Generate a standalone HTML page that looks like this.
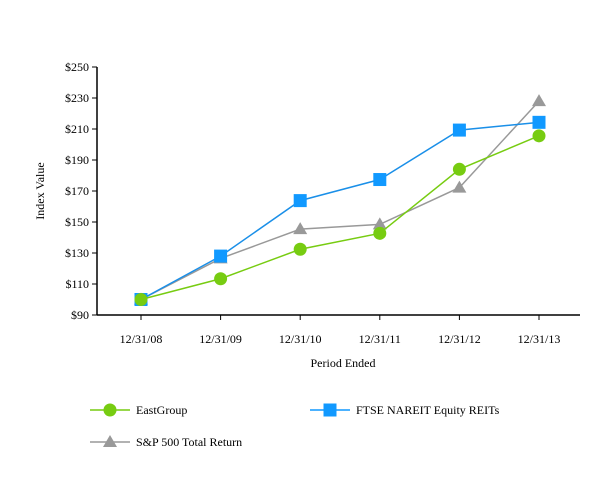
<!DOCTYPE html>
<html><head><meta charset="utf-8"><style>
body{margin:0;background:#fff;}
svg{font-family:"Liberation Serif",serif;}
</style></head><body>
<svg width="613" height="480" xmlns="http://www.w3.org/2000/svg">
<g id="axes"></g><g id="series"></g><g id="legend"></g>
</svg>
<script>
const categories=["12/31/08","12/31/09","12/31/10","12/31/11","12/31/12","12/31/13"];
const yTicks=[90,110,130,150,170,190,210,230,250];
const eastGroup=[100,113.4,132.4,142.7,184,205.6];
const ftse=[100,128,163.8,177.4,209.3,214.3];
const sp500=[100,126.5,145.4,148.5,172.2,228];
const NS="http://www.w3.org/2000/svg";
const x0=97,x1=580,yTop=67,yBot=315;
function xs(i){return 141+i*79.6;}
function ys(v){return yBot-(v-90)/(250-90)*(yBot-yTop);}
function mk(tag,attrs,parent,text){const e=document.createElementNS(NS,tag);for(const k in attrs)e.setAttribute(k,attrs[k]);if(text!==undefined)e.textContent=text;parent.appendChild(e);return e;}
const axes=document.getElementById('axes');
let a=mk('line',{x1:x0,y1:yTop,x2:x0,y2:yBot,stroke:'#000','stroke-width':1.5},axes);


a=mk('line',{x1:x0,y1:yBot,x2:x1,y2:yBot,stroke:'#000','stroke-width':1.5},axes);


yTicks.forEach(v=>{
 mk('line',{x1:x0-5,y1:ys(v),x2:x0,y2:ys(v),stroke:'#000'},axes);
 const t=mk('text',{x:x0-8,y:ys(v)+4,'text-anchor':'end','font-size':12},axes,'$'+v);
 
 
});
categories.forEach((c,i)=>{
 mk('line',{x1:xs(i),y1:yBot,x2:xs(i),y2:yBot+5,stroke:'#000'},axes);
 const t=mk('text',{x:xs(i),y:343,'text-anchor':'middle','font-size':12},axes,c);
 
 
});
let t=mk('text',{x:343,y:367,'text-anchor':'middle','font-size':12},axes,'Period Ended');


t=mk('text',{x:44,y:191,'text-anchor':'middle','font-size':12,transform:'rotate(-90 44 191)'},axes,'Index Value');


function marker(g,type,x,y,col){
 if(type==='circle')return mk('circle',{cx:x,cy:y,r:6.5,fill:col},g);
 if(type==='square')return mk('rect',{x:x-6.5,y:y-6.5,width:13,height:13,fill:col},g);
 return mk('polygon',{points:`${x},${y-7} ${x+7},${y+5} ${x-7},${y+5}`,fill:col},g);
}
const seriesList=[
 {name:'sp500',data:sp500,col:'#999999',m:'tri'},
 {name:'ftse',data:ftse,col:'#1a8fe8',m:'square'},
 {name:'eastgroup',data:eastGroup,col:'#77cc11',m:'circle'}];
const sg=document.getElementById('series');
seriesList.forEach(s=>{
 const g=mk('g',{},sg);
 
 
 mk('polyline',{points:s.data.map((v,i)=>xs(i)+','+ys(v)).join(' '),fill:'none',stroke:s.col,'stroke-width':1.5},g);
 s.data.forEach((v,i)=>{const p=marker(g,s.m,xs(i),ys(v),s.col==='#1a8fe8'?'#1199ff':s.col);
  
  });
});
const lg=document.getElementById('legend');
[[90,410,'#77cc11','circle','EastGroup','eastgroup'],[310,410,'#1199ff','square','FTSE NAREIT Equity REITs','ftse'],[90,442,'#999999','tri','S&P 500 Total Return','sp500']].forEach(e=>{
 const g=mk('g',{},lg);
 
 
 mk('line',{x1:e[0],y1:e[1],x2:e[0]+40,y2:e[1],stroke:e[2],'stroke-width':1.5},g);
 marker(g,e[3],e[0]+20,e[1],e[2]);
 mk('text',{x:e[0]+46,y:e[1]+4,'font-size':12},g,e[4]);
});
</script>
</body></html>
